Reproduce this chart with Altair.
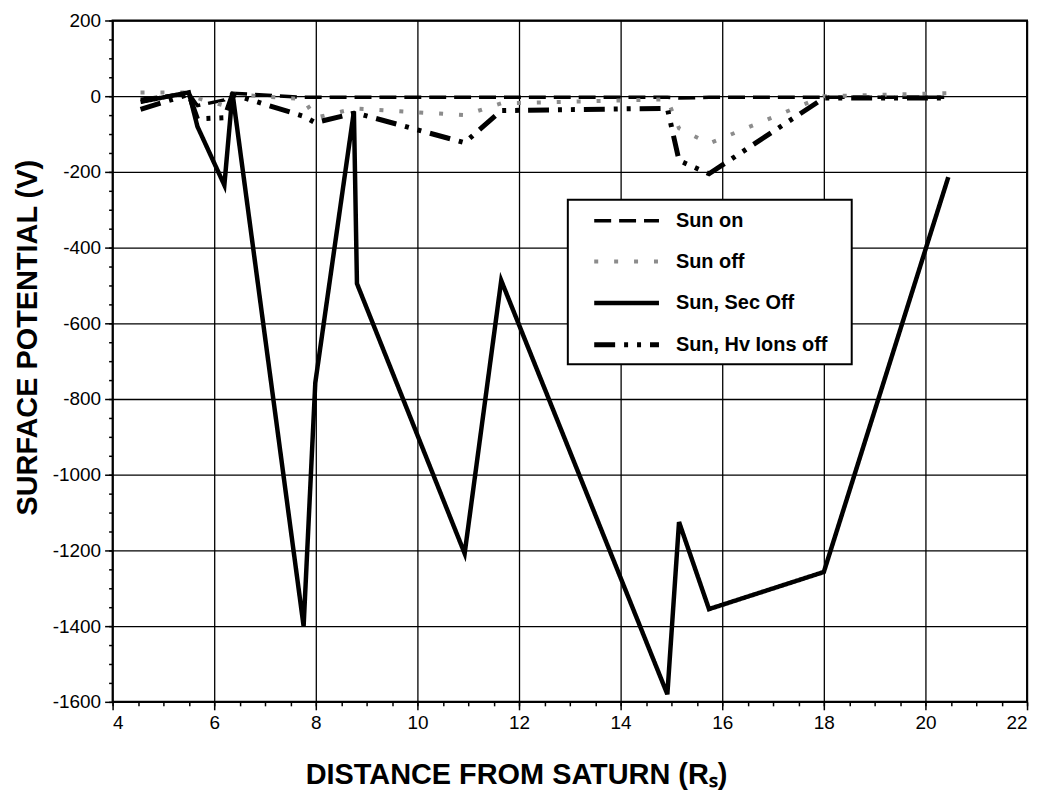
import altair as alt
import pandas as pd

# distance from Saturn (Rs) of the computed cases
x_rs = [4.55, 5.5, 5.67, 6.2, 6.36, 7.76, 7.99, 8.75, 8.81, 10.93, 11.65, 14.92, 15.15, 15.74, 18.0, 20.45]
# surface potential (V) per case
sun_on = [-8, 8, -25, -10, 8, -3, -3, -3, -3, -3, -3, -3, -5, -3, -3, -3]
sun_off = [10, 10, -5, -25, 5, -8, -57, -33, -33, -50, -19, -8, -85, -125, 0, 8]
sec_off = [-15, 10, -80, -235, 8, -1400, -757, -40, -495, -1208, -487, -1580, -1125, -1355, -1257, -214]
hv_off = [-35, 5, -60, -57, 5, -53, -70, -45, -45, -123, -38, -32, -170, -205, -5, -5]

names = ["Sun on", "Sun off", "Sun, Sec Off", "Sun, Hv Ions off"]
series_vals = [sun_on, sun_off, sec_off, hv_off]

x_major = [4, 6, 8, 10, 12, 14, 16, 18, 20, 22]
y_major = [-1600, -1400, -1200, -1000, -800, -600, -400, -200, 0, 200]
x_minor = [4 + 0.5 * i for i in range(37)]
y_minor = [-1600 + 50 * i for i in range(37)]

rows = []
for name, vals in zip(names, series_vals):
    for xv, vv in zip(x_rs, vals):
        rows.append({"x": xv, "v": vv, "series": name})
df = pd.DataFrame(rows)

colors = ["black", "#8c8c8c", "black", "black"]
dashes = [[17, 8], [4, 16], [1, 0], [21, 9, 4, 9, 4, 9]]
widths = [3.5, 5, 5, 4.5]

FONT = "Liberation Sans, Arial, Helvetica, sans-serif"

xs = alt.Scale(domain=[4, 22], nice=False, zero=False)
ys = alt.Scale(domain=[-1600, 200], nice=False, zero=False)

leg = alt.Legend(
    title=None, orient="none", legendX=457, legendY=180,
    symbolType="M-3.25,0H3.25", symbolSize=400, symbolStrokeWidth=4,
    symbolOffset=37.5, labelOffset=37,
    labelFont=FONT, labelFontSize=20, labelFontWeight="bold", labelColor="black",
    padding=9, rowPadding=19, strokeColor="black", fillColor="white",
    labelLimit=400,
    labelExpr="datum.label + '\u2800'",
)

base = alt.Chart(df)

lines = base.mark_line(strokeCap="butt").encode(
    x=alt.X("x:Q", scale=xs, axis=alt.Axis(
        orient="bottom", values=x_major, grid=True, tickSize=8, labelPadding=4,
        title="DISTANCE FROM SATURN (Rₛ)", titleX=405, titleY=82,
        titleBaseline="alphabetic", titleAlign="center")),
    y=alt.Y("v:Q", scale=ys, axis=alt.Axis(
        orient="left", values=y_major, grid=True, tickSize=8, labelPadding=4,
        labelExpr="'' + datum.value",
        title="SURFACE POTENTIAL (V)", titleX=-76, titleY=318,
        titleBaseline="alphabetic", titleAlign="center", titleAngle=270)),
    color=alt.Color("series:N", scale=alt.Scale(domain=names, range=colors), legend=leg),
    strokeDash=alt.StrokeDash("series:N", scale=alt.Scale(domain=names, range=dashes), legend=leg),
    strokeWidth=alt.StrokeWidth("series:N", scale=alt.Scale(domain=names, range=widths), legend=None),
)

minor = base.mark_point(opacity=0).encode(
    x=alt.X("x:Q", scale=xs, axis=alt.Axis(
        values=x_minor, labels=False, grid=False, domain=False, tickSize=4,
        title=None, orient="bottom")),
    y=alt.Y("v:Q", scale=ys, axis=alt.Axis(
        values=y_minor, labels=False, grid=False, domain=False, tickSize=4,
        title=None, orient="left")),
)

chart = alt.layer(minor, lines).resolve_axis(x="independent", y="independent").properties(
    width=918, height=684,
    padding={"left": 105, "top": 11, "right": 10, "bottom": 95},
    autosize=alt.AutoSizeParams(type="none"),
    background="white",
).configure_view(stroke="black", strokeWidth=2).configure_axis(
    gridColor="black", gridWidth=1.3, gridOpacity=1,
    tickColor="black", tickWidth=1.5, domain=False,
    labelColor="black", labelFont=FONT, labelFontSize=19,
    titleFont=FONT, titleFontSize=29, titleFontWeight="bold", titleColor="black",
).configure_legend(strokeWidth=2)

chart.save("out.html", embed_options={"renderer": "svg", "actions": False})
